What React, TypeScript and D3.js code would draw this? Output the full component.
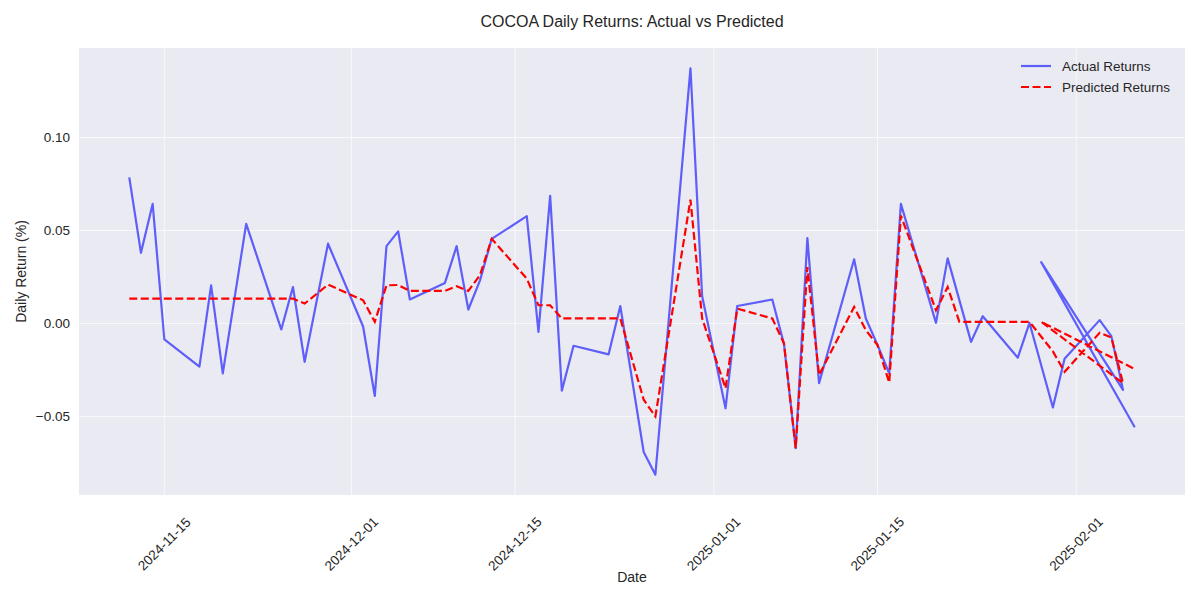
import * as d3 from "d3";
import { useEffect, useRef } from "react";

const dates = [
  "2024-11-12", "2024-11-13", "2024-11-14", "2024-11-15", "2024-11-18", "2024-11-19", "2024-11-20",
  "2024-11-22", "2024-11-25", "2024-11-26", "2024-11-27", "2024-11-29", "2024-12-02", "2024-12-03",
  "2024-12-04", "2024-12-05", "2024-12-06", "2024-12-09", "2024-12-10", "2024-12-11", "2024-12-12",
  "2024-12-13", "2024-12-16", "2024-12-17", "2024-12-18", "2024-12-19", "2024-12-20", "2024-12-23",
  "2024-12-24", "2024-12-26", "2024-12-27", "2024-12-30", "2024-12-31", "2025-01-02", "2025-01-03",
  "2025-01-06", "2025-01-07", "2025-01-08", "2025-01-09", "2025-01-10", "2025-01-13", "2025-01-14",
  "2025-01-15", "2025-01-16", "2025-01-17", "2025-01-20", "2025-01-21", "2025-01-22", "2025-01-23",
  "2025-01-24", "2025-01-27", "2025-01-28", "2025-01-30", "2025-01-31", "2025-02-03", "2025-02-04",
  "2025-02-05", "2025-01-29", "2025-02-06",
];

// null = no actual value that day (line is drawn straight across)
const actualReturns: (number | null)[] = [
  0.0786, 0.038, 0.0643, -0.0086, -0.0232, 0.0205, -0.0268,
  0.0536, -0.0032, 0.0196, -0.0206, 0.0429, -0.0016, -0.039,
  0.0416, 0.0495, 0.0129, 0.0218, 0.0416, 0.0075, 0.0232,
  0.0455, 0.0577, -0.0045, 0.0686, -0.0361, -0.012, -0.0166,
  0.0094, -0.0691, -0.0813, 0.1372, 0.0146, -0.0456, 0.0094,
  0.0129, -0.0111, -0.067, 0.0459, -0.0321, 0.0345, 0.0027,
  -0.0116, -0.0268, 0.0643, 0.0003, 0.035, null, -0.0099,
  0.0039, -0.0184, 0.0003, -0.0452, -0.019, 0.0018, -0.0068,
  -0.0357, 0.033, -0.0558,
];

const predictedReturns = [
  0.0134, 0.0134, 0.0134, 0.0134, 0.0134, 0.0134, 0.0134,
  0.0134, 0.0134, 0.0134, 0.0107, 0.0209, 0.0125, 0.0009,
  0.0205, 0.0207, 0.0175, 0.0175, 0.02, 0.0175, 0.026,
  0.0455, 0.0241, 0.0098, 0.0098, 0.0027, 0.0027, 0.0027,
  0.0027, -0.041, -0.05, 0.0666, 0.0027, -0.0348, 0.008,
  0.0027, -0.0107, -0.067, 0.0303, -0.0277, 0.0089, -0.0036,
  -0.0116, -0.0318, 0.058, 0.0071, 0.0196, 0.0009, 0.0009,
  0.0009, 0.0009, 0.0009, -0.015, -0.026, -0.005, -0.0075,
  -0.0321, 0.0009, -0.0245,
];

const xTickLabels = ["2024-11-15", "2024-12-01", "2024-12-15", "2025-01-01", "2025-01-15", "2025-02-01"];
const yTickValues = [-0.05, 0, 0.05, 0.1];

export default function App() {
  const ref = useRef<SVGSVGElement | null>(null);

  useEffect(() => {
    if (!ref.current) return;
    document.body.style.margin = "0";

    const width = 1200;
    const height = 600;
    const margin = { top: 48, right: 15, bottom: 105, left: 79 };
    const font = "'Liberation Sans', Arial, sans-serif";

    const svg = d3.select(ref.current);
    svg.selectAll("*").remove();

    const parse = d3.timeParse("%Y-%m-%d");
    const times = dates.map((d) => parse(d)!);
    const rows = times.map((t, i) => ({ t, a: actualReturns[i], p: predictedReturns[i] }));

    // matplotlib-style 5% margins
    const [tMin, tMax] = d3.extent(times) as [Date, Date];
    const tPad = (+tMax - +tMin) * 0.05;
    const vals = [...actualReturns.filter((v) => v != null), ...predictedReturns] as number[];
    const vMin = d3.min(vals)!;
    const vMax = d3.max(vals)!;
    const vPad = (vMax - vMin) * 0.05;

    const x = d3.scaleTime()
      .domain([new Date(+tMin - tPad), new Date(+tMax + tPad)])
      .range([margin.left, width - margin.right]);
    const y = d3.scaleLinear()
      .domain([vMin - vPad, vMax + vPad])
      .range([height - margin.bottom, margin.top]);

    // background
    svg.append("rect")
      .attr("x", margin.left)
      .attr("y", margin.top)
      .attr("width", width - margin.left - margin.right)
      .attr("height", height - margin.top - margin.bottom)
      .attr("fill", "#EAEAF2");

    const xTicks = xTickLabels.map((d) => parse(d)!);

    // grid
    svg.append("g")
      .selectAll("line")
      .data(xTicks)
      .join("line")
      .attr("x1", (d) => x(d))
      .attr("x2", (d) => x(d))
      .attr("y1", margin.top)
      .attr("y2", height - margin.bottom)
      .attr("stroke", "#fff")
      .attr("stroke-opacity", 0.7)
      .attr("stroke-width", 1);

    svg.append("g")
      .selectAll("line")
      .data(yTickValues)
      .join("line")
      .attr("x1", margin.left)
      .attr("x2", width - margin.right)
      .attr("y1", (d) => y(d))
      .attr("y2", (d) => y(d))
      .attr("stroke", "#fff")
      .attr("stroke-opacity", 0.7)
      .attr("stroke-width", 1);

    // tick labels
    svg.append("g")
      .selectAll("text")
      .data(xTicks)
      .join("text")
      .attr("transform", (d) => `translate(${x(d)},${height - margin.bottom + 49}) rotate(-45)`)
      .attr("text-anchor", "middle")
      .attr("dominant-baseline", "central")
      .attr("font-family", font)
      .attr("font-size", 13.5)
      .attr("fill", "#262626")
      .text((d, i) => xTickLabels[i]);

    svg.append("g")
      .selectAll("text")
      .data(yTickValues)
      .join("text")
      .attr("x", margin.left - 9)
      .attr("y", (d) => y(d))
      .attr("text-anchor", "end")
      .attr("dominant-baseline", "central")
      .attr("font-family", font)
      .attr("font-size", 13.5)
      .attr("fill", "#262626")
      .text((d) => d3.format(".2f")(d).replace("-", "\u2212"));

    // lines
    const actualRows = rows.filter((d) => d.a != null);
    const actualLine = d3.line<(typeof rows)[number]>()
      .x((d) => x(d.t))
      .y((d) => y(d.a as number));
    const predLine = d3.line<(typeof rows)[number]>()
      .x((d) => x(d.t))
      .y((d) => y(d.p));

    const plot = svg.append("g");
    plot.append("path")
      .datum(actualRows)
      .attr("d", actualLine)
      .attr("fill", "none")
      .attr("stroke", "blue")
      .attr("stroke-opacity", 0.6)
      .attr("stroke-width", 2.2)
      .attr("stroke-linejoin", "round");
    plot.append("path")
      .datum(rows)
      .attr("d", predLine)
      .attr("fill", "none")
      .attr("stroke", "red")
      .attr("stroke-width", 2.2)
      .attr("stroke-dasharray", "8,3.5");

    // title & axis labels
    const cx = (margin.left + width - margin.right) / 2;
    svg.append("text")
      .attr("x", cx)
      .attr("y", 21)
      .attr("text-anchor", "middle")
      .attr("dominant-baseline", "central")
      .attr("font-family", font)
      .attr("font-size", 16)
      .attr("fill", "#262626")
      .text("COCOA Daily Returns: Actual vs Predicted");

    svg.append("text")
      .attr("x", cx)
      .attr("y", 577)
      .attr("text-anchor", "middle")
      .attr("dominant-baseline", "central")
      .attr("font-family", font)
      .attr("font-size", 14)
      .attr("fill", "#262626")
      .text("Date");

    svg.append("text")
      .attr("transform", `translate(21,${(margin.top + height - margin.bottom) / 2}) rotate(-90)`)
      .attr("text-anchor", "middle")
      .attr("dominant-baseline", "central")
      .attr("font-family", font)
      .attr("font-size", 14)
      .attr("fill", "#262626")
      .text("Daily Return (%)");

    // legend
    const legend = svg.append("g").attr("transform", "translate(1021,66)");
    legend.append("line")
      .attr("x1", 0).attr("x2", 30).attr("y1", 0).attr("y2", 0)
      .attr("stroke", "blue").attr("stroke-opacity", 0.6).attr("stroke-width", 2.2);
    legend.append("line")
      .attr("x1", 0).attr("x2", 30).attr("y1", 21).attr("y2", 21)
      .attr("stroke", "red").attr("stroke-width", 2.2).attr("stroke-dasharray", "8,3.5");
    legend.append("text")
      .attr("x", 41).attr("y", 0)
      .attr("dominant-baseline", "central")
      .attr("font-family", font).attr("font-size", 13.5).attr("fill", "#262626")
      .text("Actual Returns");
    legend.append("text")
      .attr("x", 41).attr("y", 21)
      .attr("dominant-baseline", "central")
      .attr("font-family", font).attr("font-size", 13.5).attr("fill", "#262626")
      .text("Predicted Returns");
  }, []);

  return <svg ref={ref} width={1200} height={600} style={{ display: "block", background: "#fff" }}></svg>;
}
